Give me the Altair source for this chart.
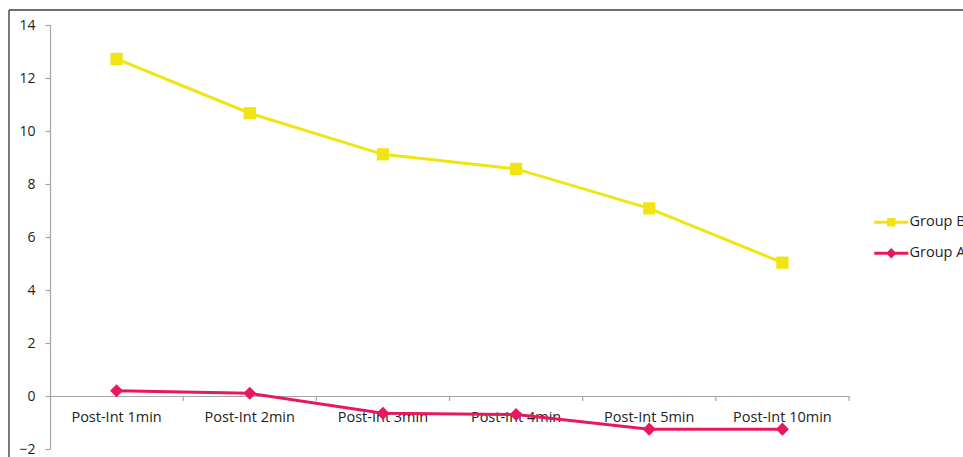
import altair as alt
import pandas as pd

# Time points after the intervention
categories = ["Post-Int 1min", "Post-Int 2min", "Post-Int 3min",
              "Post-Int 4min", "Post-Int 5min", "Post-Int 10min"]
groups = ["Group B", "Group A"]
group_b = [12.72, 10.67, 9.12, 8.57, 7.08, 5.03]
group_a = [0.20, 0.10, -0.65, -0.70, -1.25, -1.25]
y_ticks = [-2, 0, 2, 4, 6, 8, 10, 12, 14]
colors = ["#F0E412", "#E8185E"]

rows = []
for g, vals in zip(groups, [group_b, group_a]):
    for t, v in zip(categories, vals):
        rows.append({"time": t, "group": g, "value": v})
df = pd.DataFrame(rows)
cats_df = pd.DataFrame({"time": categories})
frame_df = pd.DataFrame({"frame": [0]})

W, H = 799, 424
Y_MIN, Y_MAX = -2, 14
FONT = "Open Sans"
AXIS_GREY = "#A6A6A6"
TEXT = "#222222"

x_scale = alt.Scale(type="band", domain=categories, paddingInner=0, paddingOuter=0)
y_scale = alt.Scale(domain=[Y_MIN, Y_MAX], nice=False, zero=False)
color_scale = alt.Scale(domain=groups, range=colors)

# x axis sits on the zero line
zero_offset = -H * (0 - Y_MIN) / (Y_MAX - Y_MIN)

x_axis = alt.Axis(title=None, offset=zero_offset, ticks=False, labelAngle=0,
                  labelOverlap=False, labelPadding=14, labelFont=FONT,
                  labelFontSize=14.5, labelColor=TEXT, domainColor=AXIS_GREY,
                  domainWidth=1.2, grid=False)
y_axis = alt.Axis(title=None, values=y_ticks, grid=False, labelFont=FONT,
                  labelFontSize=14, labelColor=TEXT, labelPadding=10,
                  tickSize=5, tickColor=AXIS_GREY, domainColor=AXIS_GREY,
                  domainWidth=1.2, tickWidth=1.2)

# legend symbols: a short line with the marker on top
sym_b = "M-3.4,-0.3H3.4V0.3H-3.4Z M-0.85,-0.85H0.85V0.85H-0.85Z"
sym_a = "M-3.4,-0.3H3.4V0.3H-3.4Z M0,-1.05L1.05,0L0,1.05L-1.05,0Z"

legend = alt.Legend(orient="none", legendX=834, legendY=190, title=None,
                    labelFont=FONT, labelFontSize=14.5, labelColor=TEXT,
                    symbolSize=100, labelOffset=11, rowPadding=16,
                    padding=0, symbolStrokeWidth=0)

x_enc = alt.X("time:N", scale=x_scale, sort=categories, bandPosition=0.5, axis=x_axis)
y_enc = alt.Y("value:Q", scale=y_scale, axis=y_axis)
color_enc = alt.Color("group:N", scale=color_scale, legend=legend)

# outer chart frame (top and left edges fall inside the canvas)
frame_top = alt.Chart(frame_df).mark_rule(color="#404040", strokeWidth=1.4).encode(
    x=alt.value(-41), x2=alt.value(W + 140), y=alt.value(-15)
)
frame_left = alt.Chart(frame_df).mark_rule(color="#404040", strokeWidth=1.4).encode(
    x=alt.value(-41), y=alt.value(-15), y2=alt.value(H + 40)
)

# category boundary ticks hanging below the zero line
cat_ticks = alt.Chart(cats_df).mark_rule(
    color=AXIS_GREY, strokeWidth=1.2, y2Offset=5
).encode(
    x=alt.X("time:N", scale=x_scale, sort=categories, bandPosition=1, axis=x_axis),
    y=alt.datum(0, scale=y_scale, axis=y_axis),
    y2=alt.datum(0),
)

lines = alt.Chart(df).mark_line(strokeWidth=3).encode(
    x=x_enc, y=y_enc, color=color_enc, detail="group:N"
)

pts_b = alt.Chart(df).transform_filter(alt.datum.group == "Group B").mark_point(
    shape="square", filled=True, size=150, opacity=1, strokeWidth=0
).encode(x=x_enc, y=y_enc, color=color_enc)

pts_a = alt.Chart(df).transform_filter(alt.datum.group == "Group A").mark_point(
    shape="diamond", filled=True, size=170, opacity=1, strokeWidth=0
).encode(x=x_enc, y=y_enc, color=color_enc)

# invisible layer that only carries the legend's line-and-marker symbols
legend_layer = alt.Chart(df).mark_point(filled=True, opacity=0, size=100).encode(
    x=x_enc, y=y_enc, color=color_enc,
    shape=alt.Shape("group:N", scale=alt.Scale(domain=groups, range=[sym_b, sym_a]),
                    legend=legend),
)

chart = alt.layer(frame_top, frame_left, cat_ticks, lines, pts_b, pts_a, legend_layer).properties(
    width=W, height=H,
    padding={"left": 50, "top": 25, "right": 963 - 50 - W, "bottom": 457 - 25 - H},
    autosize=alt.AutoSizeParams(type="none"),
    background="white",
).configure_view(stroke=None)

chart.save("out.html", embed_options={"renderer": "svg", "actions": False})
